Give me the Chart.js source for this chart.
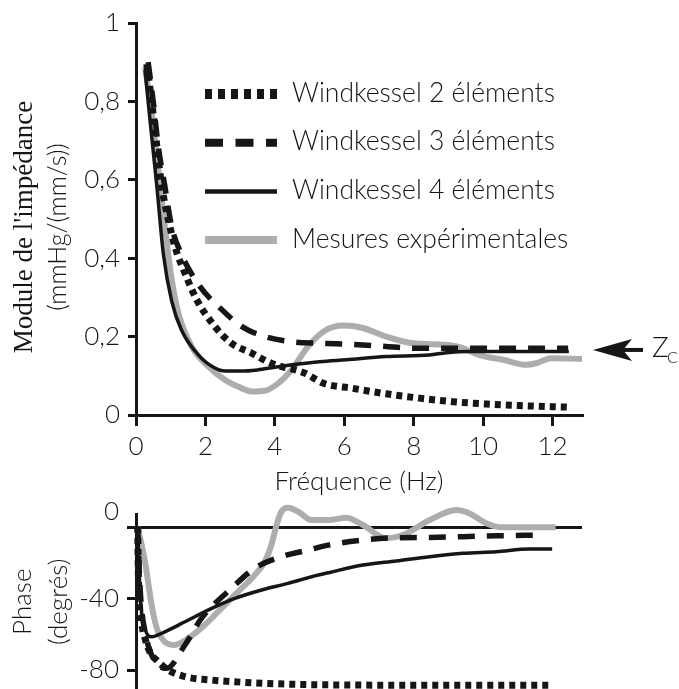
<!DOCTYPE html>
<html>
<head>
<meta charset="utf-8">
<script src="https://cdn.jsdelivr.net/npm/chart.js@4.4.1/dist/chart.umd.min.js"></script>
<style>
  html, body { margin: 0; padding: 0; background: #fff; }
  #wrap { position: relative; width: 679px; height: 689px; overflow: hidden; }
  canvas { position: absolute; left: 0; }
  #impedance { top: 0; }
  #phase { top: 470px; }
</style>
</head>
<body>
<div id="wrap">
  <canvas id="impedance" width="679" height="500"></canvas>
  <canvas id="phase" width="679" height="219"></canvas>
</div>
<script>
const seriesLabels = ['Windkessel 2 éléments', 'Windkessel 3 éléments', 'Windkessel 4 éléments', 'Mesures expérimentales'];
const freqTicks = [0, 2, 4, 6, 8, 10, 12];
const moduleTicks = [0, 0.2, 0.4, 0.6, 0.8, 1];
const phaseTicks = [-80, -40, 0];
const zcValue = 0.166;

// module de l'impédance (mmHg/(mm/s)) vs fréquence (Hz)
const modFreqWk2 = [0.31, 0.45, 0.6, 0.74, 0.93, 1.12, 1.41, 1.75, 2.27, 2.75, 3.33, 3.9, 4.86, 5.4, 6.25, 7.21, 8.17, 9.13, 10.1, 11.05, 12.45];
const modWk2 = [0.895, 0.8, 0.686, 0.584, 0.499, 0.43, 0.362, 0.294, 0.226, 0.183, 0.158, 0.132, 0.107, 0.081, 0.068, 0.054, 0.043, 0.034, 0.028, 0.024, 0.02];
const modFreqWk3 = [0.35, 0.5, 0.64, 0.83, 1.03, 1.31, 1.84, 2.47, 3.04, 3.71, 4.48, 5.3, 6.25, 7.21, 8.17, 10.1, 12.45];
const modWk3 = [0.9, 0.797, 0.686, 0.584, 0.48, 0.41, 0.328, 0.269, 0.226, 0.2, 0.187, 0.183, 0.18, 0.175, 0.17, 0.17, 0.17];
const modFreqWk4 = [0.26, 0.4, 0.6, 0.79, 1.03, 1.31, 1.84, 2.27, 2.5, 3.0, 3.5, 4.0, 4.5, 5.29, 6.06, 7.21, 8.46, 8.94, 9.61, 12.47];
const modWk4 = [0.88, 0.755, 0.584, 0.41, 0.29, 0.217, 0.149, 0.12, 0.113, 0.112, 0.115, 0.122, 0.128, 0.136, 0.141, 0.149, 0.153, 0.159, 0.162, 0.162];
const modFreqMes = [0.26, 0.45, 0.64, 0.83, 1.03, 1.22, 1.6, 2.08, 2.56, 3.0, 3.33, 3.71, 4.1, 4.48, 4.96, 5.44, 5.97, 6.54, 7.21, 7.98, 8.94, 9.33, 9.9, 10.57, 11.24, 11.53, 11.96, 12.85];
const modMes = [0.887, 0.772, 0.627, 0.482, 0.345, 0.26, 0.175, 0.124, 0.09, 0.07, 0.06, 0.062, 0.081, 0.115, 0.175, 0.215, 0.228, 0.222, 0.2, 0.183, 0.179, 0.173, 0.153, 0.141, 0.128, 0.132, 0.145, 0.143];

// phase (degrés) vs fréquence (Hz)
const phFreqWk2 = [0.05, 0.07, 0.16, 0.26, 0.4, 0.64, 0.93, 1.41, 2.18, 3.14, 4.58, 6.5, 8.5, 10.5, 12.0];
const phWk2 = [0, -28.7, -53, -62.3, -69.8, -75.3, -80, -83.7, -85.6, -86.9, -88, -88.4, -88.5, -88.5, -88.5];
const phFreqWk3 = [0.05, 0.12, 0.3, 0.55, 0.88, 1.41, 1.89, 2.75, 3.42, 4.19, 4.96, 5.58, 6.54, 7.5, 8.46, 9.42, 10.38, 11.7];
const phWk3 = [0, -35, -62, -75, -79, -66, -51, -34.3, -23.1, -16.6, -12.9, -10, -7.3, -6, -5.8, -5.4, -4.9, -4.5];
const phFreqWk4 = [0.05, 0.12, 0.26, 0.45, 0.83, 1.41, 2.18, 2.85, 3.62, 4.38, 5.06, 5.58, 6.54, 7.5, 8.46, 9.42, 10.38, 11.34, 11.99];
const phWk4 = [0, -38, -56.7, -61.4, -58.6, -53, -45.5, -39.9, -35.2, -31.5, -27.8, -25.4, -21.3, -19, -16.6, -14.7, -13.8, -12.3, -12.3];
const phFreqMes = [0.05, 0.26, 0.45, 0.6, 0.83, 1.12, 1.5, 1.98, 2.46, 2.94, 3.42, 3.71, 3.9, 4.05, 4.19, 4.38, 4.67, 5.06, 5.54, 6.06, 6.54, 7.21, 7.69, 8.46, 9.23, 9.61, 10.09, 10.57, 11.34, 12.09];
const phMes = [0, -19.4, -43.6, -56.7, -64.2, -66, -62.3, -54.8, -45.5, -36.2, -26.9, -19.4, -10.1, 1.1, 8.6, 10.8, 8.6, 3.9, 3.9, 5.2, 1.1, -6.3, -4.5, 3.9, 9.5, 7.6, 2.1, -0.2, -0.2, -0.2];

const ink = '#161616';
const grey = '#adadad';
const sans = 'Lato';

Chart.defaults.font.family = sans;
Chart.defaults.font.weight = '300';
Chart.defaults.color = ink;

const lineStyles = [
  { borderColor: ink, borderWidth: 7, borderDash: [6, 5], legendWidth: 10, legendDash: [7, 6] },
  { borderColor: ink, borderWidth: 5.5, borderDash: [17, 12], legendWidth: 8, legendDash: [18, 12.5] },
  { borderColor: ink, borderWidth: 3.5, borderDash: [], legendWidth: 4.5, legendDash: [] },
  { borderColor: grey, borderWidth: 6, borderDash: [], legendWidth: 8, legendDash: [] },
];

function pts(xs, ys) {
  return xs.map((x, i) => ({ x: x, y: ys[i] }));
}

function buildDatasets(series, extra) {
  return series.map((s, i) => Object.assign({
    label: seriesLabels[i],
    data: pts(s[0], s[1]),
    pointRadius: 0,
    fill: false,
    cubicInterpolationMode: 'monotone',
    borderCapStyle: 'butt',
  }, lineStyles[i], extra));
}

// legend drawn inside the plot, one line sample + label per dataset
const lineLegend = {
  id: 'lineLegend',
  afterDatasetsDraw(chart, args, opts) {
    const { ctx } = chart;
    ctx.save();
    chart.data.datasets.forEach((ds, i) => {
      const y = opts.top + i * opts.gap;
      ctx.beginPath();
      ctx.setLineDash(ds.legendDash);
      ctx.lineWidth = ds.legendWidth;
      ctx.lineCap = 'butt';
      ctx.strokeStyle = ds.borderColor;
      ctx.moveTo(opts.x, y);
      ctx.lineTo(opts.x + opts.length, y);
      ctx.stroke();
      ctx.setLineDash([]);
      ctx.fillStyle = ink;
      ctx.font = opts.font;
      ctx.textBaseline = 'middle';
      ctx.fillText(ds.label, opts.textX, y - 1);
    });
    ctx.restore();
  }
};

// rotated y title, each line with its own font
const sideTitle = {
  id: 'sideTitle',
  afterDraw(chart, args, opts) {
    const { ctx } = chart;
    opts.lines.forEach((line) => {
      ctx.save();
      ctx.translate(line.x, opts.y);
      ctx.rotate(-Math.PI / 2);
      ctx.font = line.font;
      ctx.fillStyle = ink;
      ctx.textAlign = 'center';
      ctx.textBaseline = 'middle';
      ctx.fillText(line.text, 0, 0);
      ctx.restore();
    });
  }
};

// arrow pointing at the characteristic impedance level
const zcMarker = {
  id: 'zcMarker',
  afterDraw(chart, args, opts) {
    const { ctx, chartArea } = chart;
    const y = chart.scales.y.getPixelForValue(opts.value);
    const tip = chartArea.right + 11;
    ctx.save();
    ctx.fillStyle = ink;
    ctx.beginPath();
    ctx.moveTo(tip, y);
    ctx.lineTo(tip + 39, y - 11);
    ctx.lineTo(tip + 30, y);
    ctx.lineTo(tip + 39, y + 11);
    ctx.closePath();
    ctx.fill();
    ctx.fillRect(tip + 28, y - 2, 22, 4);
    ctx.textBaseline = 'alphabetic';
    ctx.font = '300 28px ' + sans;
    ctx.fillText('Z', tip + 59, y + 7);
    ctx.font = '300 16px ' + sans;
    ctx.fillText('C', tip + 74, y + 13);
    ctx.restore();
  }
};

const commaLabel = (v) => String(Number(v.toFixed(1))).replace('.', ',');

new Chart(document.getElementById('impedance'), {
  type: 'line',
  data: {
    datasets: buildDatasets([
      [modFreqWk2, modWk2],
      [modFreqWk3, modWk3],
      [modFreqWk4, modWk4],
      [modFreqMes, modMes],
    ], {}),
  },
  options: {
    responsive: false,
    animation: false,
    devicePixelRatio: 1,
    layout: { padding: { left: 0, top: 23, right: 97, bottom: 0 } },
    scales: {
      x: {
        type: 'linear',
        min: 0,
        max: 12.85,
        afterBuildTicks: (s) => { s.ticks = freqTicks.map((v) => ({ value: v })); },
        afterFit: (s) => { s.height = 85; s.paddingLeft = 0; s.paddingRight = 0; },
        ticks: { font: { size: 26 }, color: ink, padding: 5, maxRotation: 0 },
        grid: { drawOnChartArea: false, tickLength: 11, lineWidth: 3, color: ink },
        border: { width: 3, color: ink },
        title: { display: true, text: 'Fréquence (Hz)', font: { size: 26 }, color: ink, padding: { top: 0, bottom: 3 } },
      },
      y: {
        min: 0,
        max: 1,
        afterBuildTicks: (s) => { s.ticks = moduleTicks.map((v) => ({ value: v })); },
        afterFit: (s) => { s.width = 136; s.paddingTop = 0; s.paddingBottom = 0; },
        ticks: { font: { size: 26 }, color: ink, padding: 8, callback: commaLabel },
        grid: { drawOnChartArea: false, tickLength: 8, lineWidth: 3, color: ink },
        border: { width: 3, color: ink },
      },
    },
    plugins: {
      legend: { display: false },
      tooltip: { enabled: false },
      lineLegend: { x: 205, length: 72, textX: 292, top: 94, gap: 48.7, font: '300 26.5px ' + sans },
      sideTitle: {
        y: 227,
        lines: [
          { text: "Module de l'impédance", x: 25, font: '27px "Liberation Serif"' },
          { text: '(mmHg/(mm/s))', x: 58, font: '300 25px ' + sans },
        ],
      },
      zcMarker: { value: zcValue },
    },
  },
  plugins: [lineLegend, sideTitle, zcMarker],
});

new Chart(document.getElementById('phase'), {
  type: 'line',
  data: {
    datasets: buildDatasets([
      [phFreqWk2, phWk2],
      [phFreqWk3, phWk3],
      [phFreqWk4, phWk4],
      [phFreqMes, phMes],
    ], { clip: false }),
  },
  options: {
    responsive: false,
    animation: false,
    devicePixelRatio: 1,
    layout: { padding: { left: 0, top: 44.5, right: 97, bottom: 0 } },
    scales: {
      x: { type: 'linear', display: false, min: 0, max: 12.85 },
      y: {
        min: -90.6,
        max: 7,
        afterBuildTicks: (s) => { s.ticks = phaseTicks.map((v) => ({ value: v })); },
        afterFit: (s) => { s.width = 136; s.paddingTop = 0; s.paddingBottom = 0; },
        ticks: { font: { size: 26 }, color: ink, padding: 8, callback: (v) => (v === 0 ? ['0', ''] : String(v)) },
        grid: {
          drawOnChartArea: true,
          color: (c) => (c.tick && c.tick.value === 0 ? ink : 'rgba(0,0,0,0)'),
          tickColor: ink,
          tickLength: 9,
          lineWidth: 3,
        },
        border: { width: 3, color: ink },
        title: {
          display: true,
          text: ['Phase', '(degrés)'],
          font: { size: 26, lineHeight: 1.35 },
          color: ink,
          padding: { top: 5.5, bottom: 0 },
        },
      },
    },
    plugins: { legend: { display: false }, tooltip: { enabled: false } },
  },
});
</script>
</body>
</html>
